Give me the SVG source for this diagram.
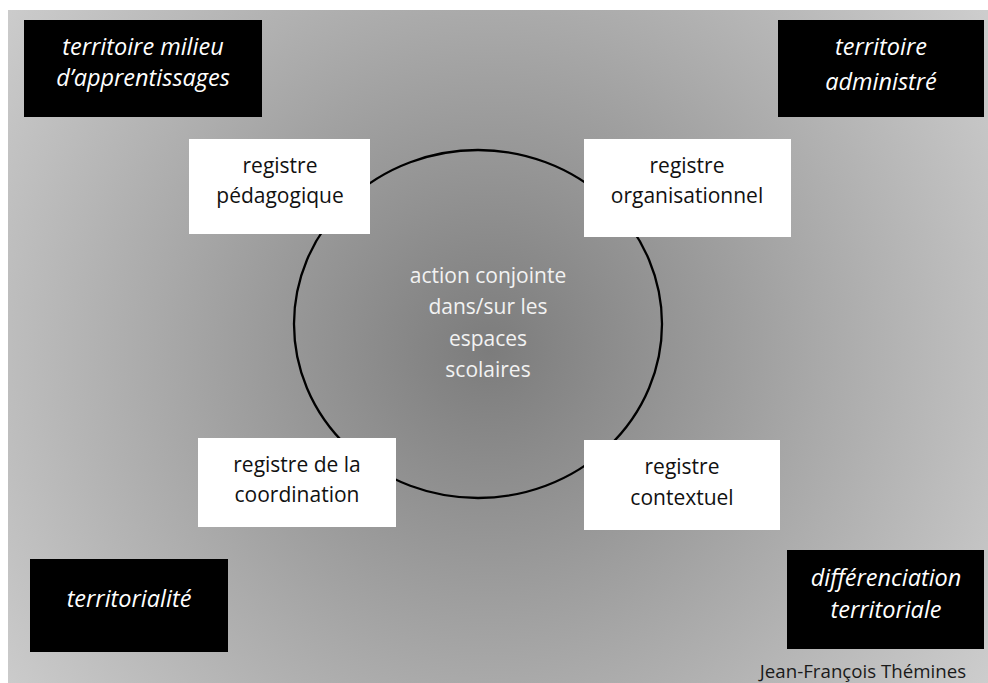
<svg xmlns="http://www.w3.org/2000/svg" width="988" height="683" viewBox="0 0 988 683">
<style>
.blk{fill:#000}
.wht{fill:#fff}
.bt{font-family:"Open Sans","Liberation Sans",sans-serif;font-style:italic;font-size:23.5px;fill:#fff;text-anchor:middle}
.wt{font-family:"Open Sans","Liberation Sans",sans-serif;font-size:21px;fill:#111;text-anchor:middle}
.ct{font-family:"Open Sans","Liberation Sans",sans-serif;font-size:21px;fill:#f2f2f2;text-anchor:middle}
.au{font-family:"Open Sans","Liberation Sans",sans-serif;font-size:18.7px;fill:#1a1a1a;text-anchor:middle}
</style>
<defs>
<radialGradient id="bg" gradientUnits="userSpaceOnUse" cx="490" cy="350" r="600">
<stop offset="0" stop-color="#7c7c7c"/>
<stop offset="0.55" stop-color="#a9a9a9"/>
<stop offset="1" stop-color="#cdcdcd"/>
</radialGradient>
</defs>
<rect x="0" y="0" width="988" height="683" fill="#fff"/>
<rect x="8" y="10" width="980" height="673" fill="url(#bg)"/>
<g id="center">
<ellipse cx="478" cy="324" rx="184" ry="174" fill="none" stroke="#000" stroke-width="2.3"/>
<text class="ct" x="488" y="283">action conjointe</text>
<text class="ct" x="488" y="314">dans/sur les</text>
<text class="ct" x="488" y="346">espaces</text>
<text class="ct" x="488" y="377">scolaires</text>
</g>
<g id="connectors"/>
<g id="territoire-milieu">
<rect class="blk" x="24" y="20" width="238" height="97"/>
<text class="bt" x="143" y="55">territoire milieu</text>
<text class="bt" x="143" y="86">d’apprentissages</text>
</g>
<g id="territoire-administre">
<rect class="blk" x="778" y="20" width="206" height="97"/>
<text class="bt" x="881" y="55">territoire</text>
<text class="bt" x="881" y="90">administré</text>
</g>
<g id="territorialite">
<rect class="blk" x="30" y="559" width="198" height="93"/>
<text class="bt" x="129" y="607">territorialité</text>
</g>
<g id="differenciation">
<rect class="blk" x="787" y="550" width="197" height="99"/>
<text class="bt" x="886" y="586">différenciation</text>
<text class="bt" x="886" y="618">territoriale</text>
</g>
<g id="reg-pedagogique">
<rect class="wht" x="189" y="139" width="181" height="95"/>
<text class="wt" x="280" y="173">registre</text>
<text class="wt" x="280" y="203">pédagogique</text>
</g>
<g id="reg-organisationnel">
<rect class="wht" x="584" y="139" width="207" height="98"/>
<text class="wt" x="687" y="173">registre</text>
<text class="wt" x="687" y="203">organisationnel</text>
</g>
<g id="reg-coordination">
<rect class="wht" x="198" y="438" width="198" height="89"/>
<text class="wt" x="297" y="472">registre de la</text>
<text class="wt" x="297" y="502">coordination</text>
</g>
<g id="reg-contextuel">
<rect class="wht" x="584" y="440" width="196" height="90"/>
<text class="wt" x="682" y="474">registre</text>
<text class="wt" x="682" y="505">contextuel</text>
</g>
<text class="au" x="863" y="678">Jean-François Thémines</text>
</svg>
